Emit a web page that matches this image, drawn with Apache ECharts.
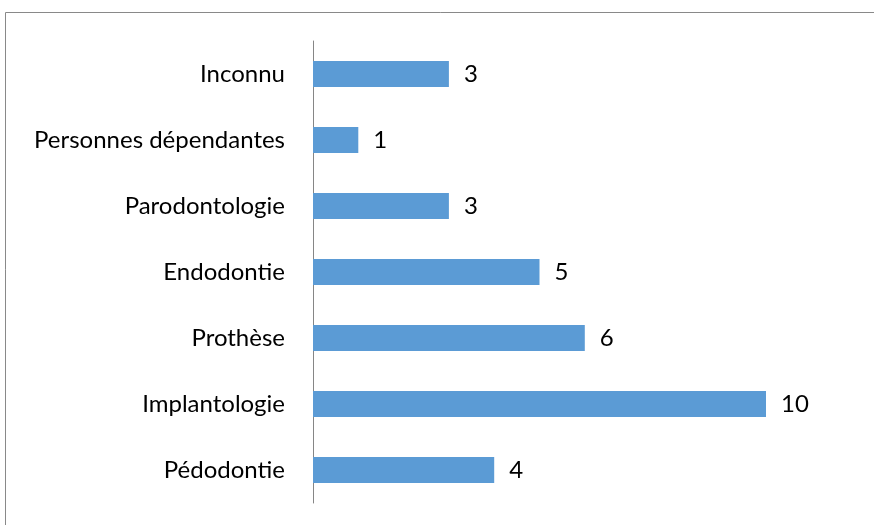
<!DOCTYPE html>
<html>
<head>
<meta charset="utf-8">
<script src="https://cdn.jsdelivr.net/npm/echarts@6/dist/echarts.min.js"></script>
<style>html,body{margin:0;padding:0;background:#fff;}#c{width:874px;height:525px;}</style>
</head>
<body>
<div id="c"></div>
<script>
var categories = ["Pédodontie", "Implantologie", "Prothèse", "Endodontie", "Parodontologie", "Personnes dépendantes", "Inconnu"];
var values = [4, 10, 6, 5, 3, 1, 3];

var chart = echarts.init(document.getElementById('c'), null, {renderer: 'canvas'});
var font = 'Lato';
chart.setOption({
  animation: false,
  graphic: [{
    type: 'rect', silent: true,
    shape: {x: 5.5, y: 12.5, width: 900, height: 600},
    style: {fill: 'none', stroke: '#898989', lineWidth: 1}
  }],
  grid: {left: 313, top: 41, width: 453, height: 462},
  xAxis: {
    type: 'value', min: 0, max: 10,
    show: false
  },
  yAxis: {
    type: 'category', data: categories,
    axisLine: {lineStyle: {color: '#868686', width: 1}},
    axisTick: {show: false},
    axisLabel: {color: '#000', fontFamily: font, fontSize: 24, margin: 28}
  },
  series: [{
    type: 'bar', data: values, barWidth: 26,
    itemStyle: {color: '#5b9bd5'},
    label: {show: true, position: 'right', distance: 15, color: '#000', fontFamily: font, fontSize: 24}
  }]
});
</script>
</body>
</html>
